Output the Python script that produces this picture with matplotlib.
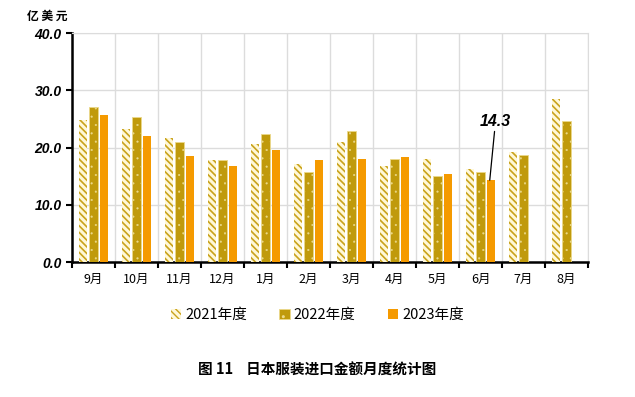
import numpy as np
import matplotlib.pyplot as plt
import matplotlib as mpl

plt.rcParams['font.family'] = ['Noto Sans CJK SC', 'DejaVu Sans']

# --- data ---
months = ['9月', '10月', '11月', '12月', '1月', '2月', '3月', '4月', '5月', '6月', '7月', '8月']
fy2021 = [24.8, 23.2, 21.7, 17.9, 20.7, 17.2, 20.9, 16.8, 18.0, 16.2, 19.3, 28.4]
fy2022 = [27.0, 25.3, 20.9, 17.9, 22.3, 15.7, 22.8, 18.0, 15.1, 15.8, 18.7, 24.7]
fy2023 = [25.6, 22.1, 18.6, 16.7, 19.5, 17.9, 18.0, 18.4, 15.4, 14.3]

fig = plt.figure(figsize=(6.35, 3.97), dpi=100)
ax = fig.add_axes([0.1134, 0.340, 0.8126, 0.5768])

x = np.arange(len(months))
w = 0.19
step = 0.235

with mpl.rc_context({'hatch.linewidth': 1.2}):
    ax.bar(x - step, fy2021, w, facecolor='#FFF8D8', edgecolor='#C9A21C', hatch='\\\\\\\\\\',
           linewidth=0, label='2021年度', zorder=3)
with mpl.rc_context({'hatch.linewidth': 0.3}):
    ax.bar(x, fy2022, w, facecolor='#C09A0C', edgecolor='#EBD98A', hatch='..',
           linewidth=0.6, label='2022年度', zorder=3)
ax.bar(x[:len(fy2023)] + step, fy2023, w, color='#F59A00', linewidth=0,
       label='2023年度', zorder=3)

ax.set_xlim(-0.5, len(months) - 0.5)
ax.set_ylim(0, 40)
ax.set_yticks([0, 10, 20, 30, 40])
ax.set_yticklabels(['%.1f' % v for v in [0, 10, 20, 30, 40]], fontsize=10,
                   fontweight='bold', fontstyle='italic', family=['Liberation Sans'])

# month labels between boundary ticks
ax.set_xticks(np.arange(-0.5, len(months), 1.0))
ax.set_xticklabels([])
ax.set_xticks(x, minor=True)
ax.set_xticklabels(months, minor=True, fontsize=9)
ax.tick_params(axis='x', which='minor', length=0, pad=8)
ax.tick_params(axis='x', which='major', length=4, width=1.5, direction='out')
ax.tick_params(axis='y', length=4, width=1.5, direction='out')

ax.grid(True, which='major', color='#DCDCDC', linewidth=1, zorder=0)
for s in ['top', 'right']:
    ax.spines[s].set_color('#DCDCDC')
ax.spines['left'].set_linewidth(1.8)
ax.spines['bottom'].set_linewidth(1.8)

# annotation for June 2023
ax.annotate('14.3', xy=(9 + step - 0.02, fy2023[9]), xytext=(9.35, 23.3),
            fontsize=11.5, fontweight='bold', fontstyle='italic', family=['Liberation Sans'],
            ha='center', va='bottom',
            arrowprops=dict(arrowstyle='-', color='black', lw=0.9, shrinkA=0, shrinkB=0))

fig.text(0.043, 0.975, '亿 美 元', fontsize=8.5, fontweight='bold', va='top', ha='left')

leg = fig.legend(loc='center', bbox_to_anchor=(0.5, 0.207), ncol=3, frameon=False,
                 fontsize=10.5, handlelength=0.7, handleheight=0.7, columnspacing=2.2,
                 handletextpad=0.3)

fig.text(0.5, 0.07, '图 11    日本服装进口金额月度统计图', fontsize=10.5, fontweight='bold',
         ha='center', va='center')

fig.savefig('out.png', dpi=100)
